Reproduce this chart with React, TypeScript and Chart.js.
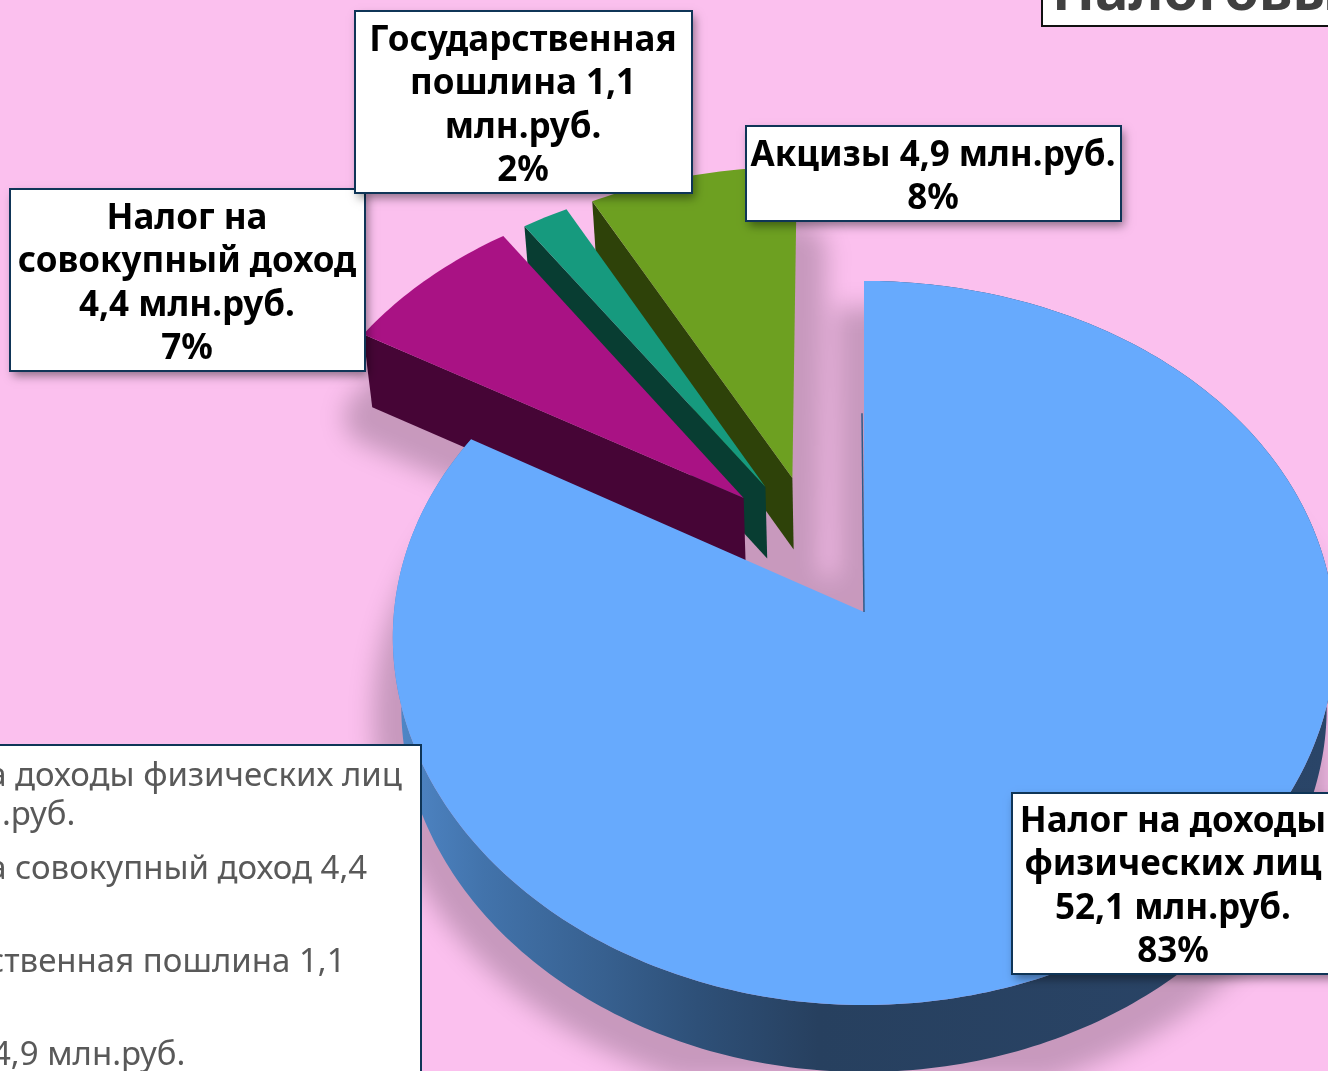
import React, { useEffect, useRef } from "react";
import { Chart, registerables } from "chart.js";

Chart.register(...registerables);

// ---- data ----
const categories = [
  "Налог на доходы физических лиц",
  "Налог на совокупный доход",
  "Государственная пошлина",
  "Акцизы",
];
const values = [52.1, 4.4, 1.1, 4.9];
const percents = [83, 7, 2, 8];
const valueTexts = ["52,1 млн.руб.", "4,4 млн.руб.", "1,1 млн.руб.", "4,9 млн.руб."];
const titleText = "Налоговые доходы";

const labelLines = [
  ["Налог на доходы", "физических лиц", "52,1 млн.руб.", "83%"],
  ["Налог на", "совокупный доход", "4,4 млн.руб.", "7%"],
  ["Государственная", "пошлина 1,1", "млн.руб.", "2%"],
  ["Акцизы 4,9 млн.руб.", "8%"],
];
const legendLines = [
  ["Налог на доходы физических лиц", "52,1 млн.руб."],
  ["Налог на совокупный доход 4,4", "млн.руб."],
  ["Государственная пошлина 1,1", "млн.руб."],
  ["Акцизы 4,9 млн.руб."],
];

// ---- styles ----
const PINK = "#fbc0ee";
const colors = ["#67aafd", "#a91284", "#169a7e", "#6da021"];
const wallColors = ["#27405f", "#460536", "#083d32", "#2e4209"];
const NAVY = "#0f3557";
const FONT = '"Noto Sans"';
const explodeDist = [0, 0.418, 0.418, 0.416];
const explodeBearing = [0, 321.2, 329.05, 337.9];
const persp = { ax: 1.024, by: 0.783, k: -0.0856, kx: -0.07, shrink: 0.982, drop: 76, dropSlope: 0.009 };
const labelBoxes = [
  { x: 1012, y: 793, w: 330, h: 181, cx: 1173, first: 822 },
  { x: 10, y: 189, w: 355, h: 182, cx: 187, first: 219 },
  { x: 355, y: 11, w: 337, h: 182, cx: 523, first: 41 },
  { x: 746, y: 126, w: 375, h: 95, cx: 933, first: 156 },
];
const LABEL_STEP = 43.5;

function makeGeom(arc: any) {
  const cx = arc.x, cy = arc.y, R = arc.outerRadius;
  const A = R * persp.ax, B = R * persp.by;
  const top = (u: number, v: number) => ({
    x: cx + (A * u) / (1 + persp.kx * v),
    y: cy + (B * v) / (1 + persp.k * v),
  });
  const low = (p: { x: number; y: number }) => ({
    x: cx + (p.x - cx) * persp.shrink,
    y: p.y + persp.drop - persp.dropSlope * p.y,
  });
  return { top, low };
}

function sliceOutline(arc: any, i: number) {
  const g = makeGeom(arc);
  const b = (explodeBearing[i] * Math.PI) / 180;
  const ox = explodeDist[i] * Math.sin(b), oy = -explodeDist[i] * Math.cos(b);
  const n = Math.max(8, Math.ceil((arc.endAngle - arc.startAngle) * 60));
  const rim: { x: number; y: number }[] = [];
  for (let j = 0; j <= n; j++) {
    const t = arc.startAngle + ((arc.endAngle - arc.startAngle) * j) / n;
    rim.push(g.top(ox + Math.cos(t), oy + Math.sin(t)));
  }
  return { apex: g.top(ox, oy), rim, low: g.low };
}

function poly(ctx: any, pts: { x: number; y: number }[]) {
  ctx.moveTo(pts[0].x, pts[0].y);
  for (let i = 1; i < pts.length; i++) ctx.lineTo(pts[i].x, pts[i].y);
  ctx.closePath();
}

function drawBox(ctx: any, x: number, y: number, w: number, h: number, border: string, shadow: boolean) {
  ctx.save();
  if (shadow) {
    ctx.shadowColor = "rgba(0,0,0,0.42)";
    ctx.shadowBlur = 9;
    ctx.shadowOffsetX = 3;
    ctx.shadowOffsetY = 5;
  }
  ctx.fillStyle = "#ffffff";
  ctx.fillRect(x, y, w, h);
  ctx.restore();
  ctx.strokeStyle = border;
  ctx.lineWidth = 2;
  ctx.strokeRect(x, y, w, h);
}

const pie3d = {
  id: "pie3d",
  beforeDraw(chart: any) {
    const ctx = chart.ctx;
    ctx.fillStyle = PINK;
    ctx.fillRect(0, 0, chart.width, chart.height);
  },
  beforeDatasetsDraw(chart: any) {
    const ctx = chart.ctx;
    const arcs = chart.getDatasetMeta(0).data;
    const shapes = arcs.map((a: any, i: number) => sliceOutline(a, i));

    // soft shadow of the lower silhouette
    const off = document.createElement("canvas");
    off.width = chart.width;
    off.height = chart.height;
    const oc: any = off.getContext("2d");
    oc.fillStyle = "#000";
    oc.strokeStyle = "#000";
    oc.lineWidth = 56;
    oc.lineJoin = "round";
    shapes.forEach((s: any) => {
      const pts = [s.apex, ...s.rim].map(s.low);
      oc.beginPath();
      poly(oc, pts);
      oc.fill();
      oc.stroke();
    });
    // main slice's cut edges also darken the gap between the slices
    const m = shapes[0];
    const r0 = m.rim[0];
    oc.beginPath();
    oc.moveTo(m.apex.x + (r0.x - m.apex.x) * 0.95, m.apex.y + (r0.y - m.apex.y) * 0.95);
    oc.lineTo(m.apex.x, m.apex.y);
    oc.lineTo(m.rim[m.rim.length - 1].x, m.rim[m.rim.length - 1].y);
    oc.stroke();
    ctx.save();
    ctx.globalAlpha = 0.205;
    ctx.filter = "blur(12px)";
    ctx.drawImage(off, 0, 10);
    ctx.restore();

    // exploded slices, back to front, then the main slice
    [3, 2, 1, 0].forEach((i) => {
      const s = shapes[i];
      const lowRim = s.rim.map(s.low);
      if (i === 0) {
        const grad = ctx.createLinearGradient(400, 0, 1330, 0);
        grad.addColorStop(0, "#4f86c6");
        grad.addColorStop(0.09, "#4273ab");
        grad.addColorStop(0.22, "#37608f");
        grad.addColorStop(0.32, "#2e5078");
        grad.addColorStop(0.45, "#27405f");
        grad.addColorStop(1, "#2a4568");
        ctx.fillStyle = grad;
        ctx.beginPath();
        poly(ctx, [...s.rim, ...lowRim.slice().reverse()]);
        ctx.fill();
      } else {
        ctx.fillStyle = wallColors[i];
        ctx.beginPath();
        poly(ctx, [s.apex, s.rim[0], lowRim[0], s.low(s.apex)]);
        ctx.fill();
      }
      ctx.fillStyle = arcs[i].options.backgroundColor;
      ctx.beginPath();
      poly(ctx, [s.apex, ...s.rim]);
      ctx.fill();
      if (i === 0) {
        // thin inner wall along the lower part of the cut
        const r = s.rim[0];
        ctx.strokeStyle = "#2f5a86";
        ctx.lineWidth = 1.5;
        ctx.beginPath();
        ctx.moveTo(s.apex.x, s.apex.y);
        ctx.lineTo(s.apex.x + (r.x - s.apex.x) * 0.6 - 2, s.apex.y + (r.y - s.apex.y) * 0.6);
        ctx.stroke();
      }
    });
    return false;
  },
  afterDraw(chart: any) {
    const ctx = chart.ctx;

    // title box, cut by the top of the page
    drawBox(ctx, 1042, -40, 320, 66, "#111111", false);
    ctx.fillStyle = "#404040";
    ctx.textAlign = "left";
    ctx.textBaseline = "alphabetic";
    ctx.font = `bold 56px ${FONT}`;
    ctx.fillText(titleText, 1052, 10);

    // legend box, cut by the left and bottom of the page
    drawBox(ctx, -60, 745, 481, 400, NAVY, false);
    ctx.fillStyle = "#595959";
    ctx.font = `33px ${FONT}`;
    ctx.textBaseline = "middle";
    ctx.textAlign = "left";
    legendLines.forEach((lines, i) => {
      lines.forEach((t, j) => ctx.fillText(t, -137, 776.5 + i * 93 + j * 39));
    });

    // data labels
    labelBoxes.forEach((b, i) => {
      drawBox(ctx, b.x, b.y, b.w, b.h, NAVY, true);
      ctx.fillStyle = "#000000";
      ctx.font = `bold 35px ${FONT}`;
      ctx.textAlign = "center";
      ctx.textBaseline = "middle";
      labelLines[i].forEach((t, j) => ctx.fillText(t, b.cx, b.first + j * LABEL_STEP));
    });
  },
};

export default function App() {
  const ref = useRef<HTMLCanvasElement>(null);
  useEffect(() => {
    const chart = new Chart(ref.current as HTMLCanvasElement, {
      type: "pie",
      data: {
        labels: categories.map((c, i) => `${c} ${valueTexts[i]} ${percents[i]}%`),
        datasets: [{ data: values, backgroundColor: colors, borderWidth: 0 }],
      },
      options: {
        responsive: false,
        animation: false,
        layout: { padding: { left: 400, top: 153 } },
        plugins: { legend: { display: false }, tooltip: { enabled: false } },
      },
      plugins: [pie3d],
    } as any);
    return () => chart.destroy();
  }, []);
  return (
    <canvas
      ref={ref}
      width={1328}
      height={1071}
      style={{ position: "fixed", left: 0, top: 0, display: "block" }}
    />
  );
}
